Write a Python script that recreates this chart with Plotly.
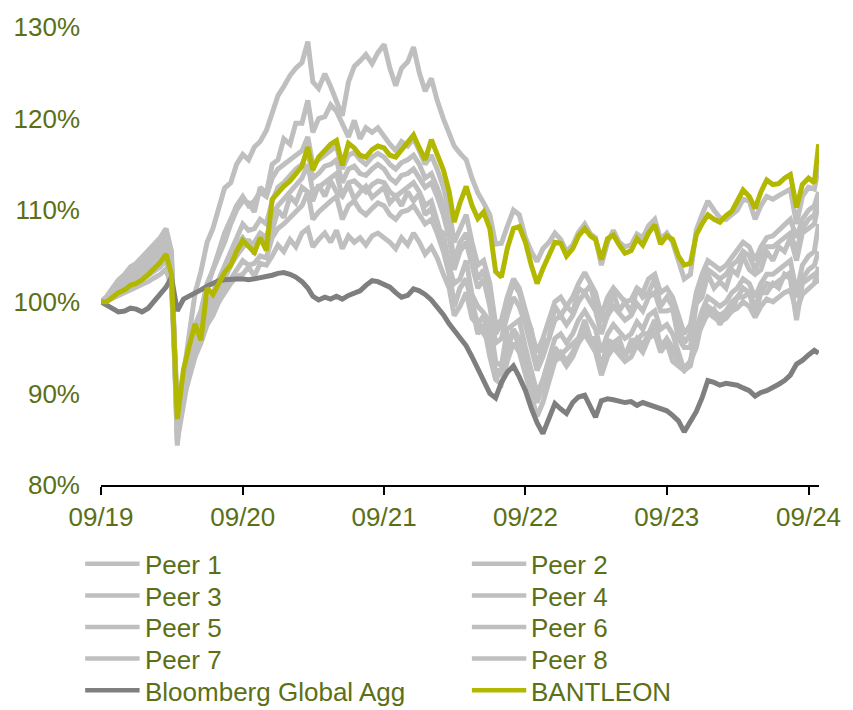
import plotly.graph_objects as go

# Observation dates: 1st and 16th of every month, Sep 2019 - Sep 2024, plus last day
dates = []
for yr in range(2019, 2025):
    for mo in range(1, 13):
        if (yr, mo) < (2019, 9) or (yr, mo) > (2024, 9):
            continue
        dates.append(f"{yr}-{mo:02d}-01")
        dates.append(f"{yr}-{mo:02d}-16")
dates.append("2024-09-27")

# Indexed performance (start = 100)
bantleon = [
    100.0, 100.0, 100.5, 101.0, 101.3, 101.8, 102.0, 102.4, 103.0, 103.6, 104.3, 105.2,
    103.0, 87.2, 92.6, 95.2, 97.6, 95.8, 101.5, 100.8, 102.0, 103.2, 104.0, 105.5,
    106.7, 106.0, 105.4, 107.0, 105.6, 111.2, 112.0, 112.6, 113.2, 114.0, 114.8, 116.9,
    114.4, 115.8, 116.5, 117.2, 117.6, 114.9, 117.3, 116.8, 116.0, 115.8, 116.6, 117.0,
    116.8, 116.0, 115.8, 116.6, 117.5, 118.2, 116.8, 115.5, 117.7, 116.0, 114.4, 112.0,
    108.7, 110.8, 112.6, 110.5, 109.1, 109.8, 108.0, 103.3, 102.7, 105.8, 108.0, 108.2,
    106.5, 104.0, 102.0, 103.6, 105.0, 106.5, 106.4, 105.0, 105.8, 107.2, 108.0, 107.2,
    106.8, 104.6, 106.9, 107.3, 106.2, 105.3, 105.6, 106.9, 106.2, 107.5, 108.4, 106.3,
    107.2, 106.8, 105.0, 104.0, 104.2, 107.3, 108.5, 109.5, 109.0, 108.7, 109.4, 109.9,
    111.0, 112.2, 111.5, 110.2, 112.0, 113.3, 112.8, 112.9, 113.5, 113.9, 110.3, 112.8,
    113.5, 113.0, 117.2,
]

bloomberg = [
    100.0, 99.6, 99.2, 98.9, 99.0, 99.3, 99.2, 98.9, 99.3, 100.1, 100.8, 101.6,
    102.7, 99.0, 100.3, 100.6, 101.0, 101.3, 101.7, 102.0, 102.3, 102.4, 102.5, 102.5,
    102.5, 102.4, 102.5, 102.6, 102.7, 102.9, 103.1, 103.2, 103.0, 102.7, 102.2, 101.5,
    100.6, 100.2, 100.5, 100.3, 100.6, 100.3, 100.7, 101.0, 101.2, 101.8, 102.3, 102.2,
    101.9, 101.6, 101.0, 100.5, 100.7, 101.4, 101.2, 100.8, 100.2, 99.5, 98.6, 97.6,
    96.9, 96.0, 95.2, 94.0, 92.6, 91.5, 90.0, 89.5, 91.2, 92.3, 93.0, 91.8,
    90.3, 88.4, 86.8, 85.6, 87.5, 88.9, 88.3, 87.8, 89.0, 89.6, 89.8, 88.5,
    87.4, 89.2, 89.4, 89.3, 89.2, 89.0, 89.1, 88.7, 89.0, 88.8, 88.6, 88.3,
    88.1, 87.6, 87.0, 85.8, 86.9, 88.0, 89.5, 91.4, 91.2, 90.9, 91.1, 91.0,
    90.9, 90.6, 90.3, 89.7, 90.1, 90.3, 90.6, 91.0, 91.4, 92.0, 93.2, 93.6,
    94.2, 94.7, 94.4,
]

peer1 = [
    100.0, 100.6, 101.5, 102.4, 103.0, 103.8, 104.2, 104.9, 105.6, 106.3, 107.0, 108.0,
    105.5, 84.3, 92.0, 96.5, 101.0, 103.3, 106.5, 108.0, 110.0, 112.4, 113.0, 115.0,
    116.1, 115.5, 116.9, 117.5, 118.7, 120.5, 122.5, 123.5, 124.7, 125.5, 126.1, 128.4,
    124.0, 123.3, 124.9, 123.5, 121.9, 120.3, 124.0, 125.7, 126.3, 127.0, 126.0, 127.2,
    128.1, 125.5, 123.6, 125.5, 126.2, 127.8, 125.0, 123.0, 124.4, 122.0, 120.0, 118.5,
    117.0, 116.2, 115.5, 113.5, 111.9, 110.8, 109.5, 106.3, 106.4, 108.2, 110.0, 109.5,
    107.0, 105.5, 104.4, 105.8, 106.5, 107.5, 106.8, 105.5, 106.2, 107.6, 108.5, 107.4,
    107.0, 104.0, 106.5, 107.8, 106.5, 106.0, 106.2, 107.4, 107.0, 108.3, 109.0, 106.8,
    107.5, 106.5, 104.5, 102.5, 103.0, 107.8, 109.5, 111.0, 110.0, 109.2, 109.0, 109.5,
    110.0, 111.2, 111.0, 109.0, 110.5, 111.5, 111.2, 111.6, 112.0, 112.3, 108.5, 111.5,
    112.5, 112.3, 114.7,
]

peer2 = [
    100.0, 100.4, 101.0, 101.8, 102.2, 102.9, 103.5, 104.0, 104.6, 105.3, 106.0, 107.2,
    104.5, 85.5, 90.0, 94.0, 96.5, 98.0, 101.5, 103.5, 105.0, 106.5, 108.5, 110.0,
    111.0, 110.8, 109.8, 112.5, 111.8, 115.0, 115.5, 117.8, 117.2, 119.5, 119.5, 122.0,
    118.5, 120.0, 120.2, 121.5, 120.8, 119.5, 118.0, 119.8, 117.8, 119.0, 118.5, 119.0,
    118.0, 117.2, 116.5, 117.5, 117.0, 117.8, 116.5, 115.0, 116.0, 114.5, 112.5, 110.0,
    106.5, 108.0, 109.5, 106.5, 104.0, 104.5, 102.0, 97.5, 98.0, 100.5, 102.5, 101.5,
    99.0, 96.5, 94.5, 96.0, 98.0, 100.0, 100.5, 99.5, 100.5, 102.0, 103.2, 102.0,
    101.0, 98.5, 100.5, 101.5, 100.8, 100.0, 100.2, 101.5, 101.0, 102.5, 103.0, 101.0,
    101.5, 100.5, 98.5, 96.5, 97.5, 101.0, 103.0, 104.5, 104.0, 103.5, 104.0, 104.8,
    105.5, 106.5, 106.0, 104.5, 106.0, 107.0, 107.2, 107.8, 108.5, 109.0, 107.0, 109.0,
    110.0, 110.5, 112.0,
]

peer3 = [
    100.0, 100.3, 100.8, 101.2, 101.6, 102.0, 102.5, 103.0, 103.4, 103.9, 104.5, 105.8,
    103.0, 88.0, 91.5, 94.5, 96.0, 97.0, 99.5, 101.0, 102.5, 104.0, 105.5, 107.0,
    108.5, 107.8, 108.0, 109.0, 108.5, 111.0, 112.5, 113.0, 113.8, 114.5, 115.0, 116.5,
    113.5, 114.0, 114.8, 115.0, 115.5, 113.0, 114.5, 114.8, 114.0, 113.8, 114.5, 115.0,
    114.5, 113.5, 113.0, 113.8, 114.0, 114.5, 113.5, 112.5, 113.0, 111.5, 109.5, 107.0,
    103.5, 105.5, 106.5, 104.0, 101.5, 102.5, 99.5, 95.5, 96.0, 98.5, 100.5, 99.5,
    97.5, 95.0, 92.5, 94.0, 96.0, 98.0, 98.5, 97.5, 98.5, 100.0, 101.0, 100.0,
    99.0, 96.5, 98.5, 99.5, 98.8, 98.0, 98.5, 99.8, 99.0, 100.5, 101.0, 99.0,
    99.0, 99.2, 96.0, 95.0, 95.0, 99.8, 100.5, 103.0, 101.5, 102.2, 101.5, 103.5,
    103.0, 105.0, 103.5, 103.0, 103.5, 105.5, 104.5, 106.0, 105.5, 107.0, 104.5, 107.5,
    108.0, 108.5, 110.8,
]

peer4 = [
    100.0, 100.2, 100.6, 101.0, 101.3, 101.7, 102.0, 102.4, 102.9, 103.3, 103.8, 104.6,
    102.0, 86.0, 90.5, 93.0, 95.0, 96.0, 98.5, 99.5, 101.0, 102.5, 104.0, 105.0,
    106.0, 106.8, 105.2, 107.5, 106.5, 107.8, 110.0, 109.2, 111.5, 110.8, 112.5, 112.0,
    111.0, 112.8, 111.5, 113.2, 112.0, 111.5, 112.8, 111.2, 112.0, 112.6, 111.4, 112.0,
    112.5, 110.8, 111.5, 110.5, 112.0, 111.0, 111.8, 109.5, 110.2, 108.0, 107.5, 103.8,
    102.0, 102.5, 104.5, 100.8, 99.5, 98.8, 97.8, 93.5, 93.0, 97.0, 97.5, 98.0,
    95.0, 92.5, 90.0, 91.5, 94.0, 96.0, 96.5, 95.5, 96.5, 98.0, 99.0, 98.0,
    97.0, 94.5, 96.5, 97.5, 96.8, 96.0, 96.5, 97.8, 97.0, 98.5, 99.0, 97.0,
    97.5, 96.5, 94.5, 92.5, 93.5, 97.0, 99.0, 100.5, 100.0, 99.5, 100.0, 101.0,
    101.5, 102.5, 102.0, 100.5, 102.0, 103.0, 103.0, 103.5, 104.0, 104.5, 101.0, 104.0,
    105.0, 105.5, 108.5,
]

peer5 = [
    100.0, 100.3, 100.7, 101.3, 101.8, 102.3, 102.8, 103.4, 104.0, 104.6, 105.2, 106.5,
    103.5, 87.0, 89.5, 92.0, 94.0, 95.5, 97.5, 98.5, 100.0, 101.5, 102.5, 103.5,
    104.5, 104.0, 104.2, 105.0, 104.8, 107.0, 108.0, 108.5, 109.2, 109.8, 110.5, 112.0,
    109.0, 109.8, 110.5, 111.0, 111.5, 109.0, 110.5, 111.0, 110.0, 109.5, 110.2, 110.8,
    110.5, 109.5, 109.0, 109.8, 110.0, 110.5, 109.5, 108.5, 109.0, 107.5, 105.5, 103.0,
    99.5, 101.5, 102.5, 100.0, 97.5, 98.5, 95.5, 91.5, 92.5, 95.0, 97.0, 96.0,
    94.0, 90.5, 89.0, 90.8, 92.0, 95.0, 94.2, 94.8, 95.5, 96.0, 98.0, 96.0,
    96.0, 92.5, 95.8, 95.5, 96.0, 94.0, 95.8, 95.8, 96.5, 96.5, 98.0, 95.0,
    96.0, 95.0, 93.5, 92.5, 93.0, 96.0, 98.0, 99.5, 99.0, 98.5, 99.0, 100.0,
    100.5, 101.5, 101.0, 99.5, 101.0, 102.0, 101.8, 102.3, 102.8, 103.2, 100.5, 102.5,
    103.5, 104.0, 105.5,
]

peer6 = [
    100.0, 100.1, 100.4, 100.7, 101.0, 101.3, 101.5, 101.8, 102.2, 102.6, 103.0, 103.6,
    101.5, 89.0, 92.0, 94.0, 95.5, 96.5, 98.0, 99.0, 100.0, 101.0, 102.0, 102.8,
    103.0, 103.8, 102.8, 104.2, 104.0, 105.0, 106.2, 105.5, 106.8, 106.0, 107.5, 108.0,
    106.0, 106.8, 107.5, 106.5, 107.8, 105.8, 107.2, 106.5, 107.0, 106.2, 107.2, 107.5,
    107.0, 106.5, 105.8, 107.0, 106.2, 107.5, 106.5, 105.2, 106.0, 104.8, 103.0, 101.5,
    98.5, 99.5, 101.0, 98.2, 97.5, 96.5, 95.5, 92.5, 92.5, 94.5, 97.0, 95.0,
    93.5, 91.5, 89.5, 90.5, 92.5, 94.0, 94.5, 93.5, 94.5, 96.0, 97.0, 96.0,
    95.0, 93.0, 94.8, 95.5, 95.0, 94.3, 94.8, 96.0, 95.3, 96.5, 97.0, 95.3,
    95.8, 94.8, 93.5, 92.8, 93.5, 96.0, 97.5, 98.8, 98.3, 97.8, 98.2, 99.0,
    99.3, 100.0, 99.5, 98.3, 99.5, 100.3, 100.0, 100.5, 101.0, 101.3, 99.0, 100.8,
    101.5, 102.0, 103.8,
]

peer7 = [
    100.0, 100.3, 100.9, 101.5, 102.0, 102.6, 103.0, 103.6, 104.2, 104.8, 105.5, 106.8,
    104.0, 84.8, 88.5, 92.5, 95.0, 96.5, 99.0, 100.5, 102.0, 103.5, 105.0, 106.0,
    107.0, 106.2, 106.5, 107.5, 107.0, 109.5, 110.5, 111.2, 112.0, 112.8, 113.5, 115.0,
    112.0, 112.5, 113.0, 113.5, 114.0, 111.5, 113.0, 113.2, 112.5, 112.0, 112.8, 113.2,
    113.0, 112.0, 111.5, 112.0, 112.5, 113.0, 112.0, 110.5, 111.0, 109.0, 106.5, 103.5,
    99.5, 101.5, 102.5, 99.5, 96.5, 97.5, 94.0, 91.5, 91.0, 93.5, 95.5, 94.5,
    92.0, 89.5, 87.5, 89.0, 91.5, 93.5, 94.0, 93.0, 94.0, 95.5, 96.5, 95.5,
    94.5, 92.0, 94.0, 95.0, 94.3, 93.5, 94.0, 95.3, 94.5, 96.0, 96.5, 94.5,
    95.5, 93.5, 93.0, 92.5, 93.5, 95.0, 98.0, 98.5, 99.2, 97.5, 99.0, 99.0,
    100.5, 100.5, 101.0, 98.5, 101.0, 101.0, 102.0, 101.5, 103.0, 102.5, 98.0, 102.0,
    102.5, 103.0, 102.0,
]

peer8 = [
    100.0, 100.5, 101.2, 101.9, 102.5, 103.2, 103.8, 104.5, 105.0, 105.8, 106.5, 107.6,
    104.8, 86.5, 91.0, 95.0, 97.5, 99.0, 102.0, 103.5, 105.5, 107.5, 109.0, 110.5,
    111.5, 110.5, 111.0, 112.0, 111.5, 113.5, 114.5, 115.0, 115.5, 116.0, 116.5, 118.0,
    115.0, 115.5, 116.0, 116.5, 117.0, 114.5, 116.0, 116.3, 115.5, 115.0, 115.8, 116.2,
    115.8, 115.0, 114.5, 115.2, 115.5, 116.0, 115.0, 113.5, 114.0, 112.5, 110.5, 108.0,
    104.5, 106.5, 107.5, 105.0, 102.5, 103.5, 100.5, 96.5, 97.5, 100.0, 102.0, 101.0,
    98.5, 97.0, 92.5, 95.5, 96.0, 99.5, 98.5, 99.5, 98.8, 101.5, 101.0, 101.8,
    99.5, 98.0, 98.8, 101.0, 99.0, 100.0, 98.8, 101.5, 100.5, 101.0, 102.5, 99.5,
    100.5, 99.5, 97.5, 95.5, 96.5, 100.0, 102.0, 103.5, 103.0, 102.5, 103.0, 104.0,
    104.5, 105.5, 105.0, 103.5, 105.0, 106.0, 106.0, 106.5, 107.0, 107.5, 105.5, 108.0,
    109.0, 109.5, 111.2,
]

peer_names = ["Peer 1", "Peer 2", "Peer 3", "Peer 4", "Peer 5", "Peer 6", "Peer 7", "Peer 8"]
peer_series = [peer1, peer2, peer3, peer4, peer5, peer6, peer7, peer8]

x_tick_dates = ["2019-09-01", "2020-09-01", "2021-09-01", "2022-09-01", "2023-09-01", "2024-09-01"]
x_tick_labels = ["09/19", "09/20", "09/21", "09/22", "09/23", "09/24"]
y_tick_values = [80, 90, 100, 110, 120, 130]
y_tick_labels = ["80%", "90%", "100%", "110%", "120%", "130%"]

PEER_GREY = "#BFBFBF"
AGG_GREY = "#7F7F7F"
BANTLEON_GREEN = "#B2B800"
TEXT_GREEN = "#5B7016"
FONT = "Liberation Sans, Arial, sans-serif"
LINE_W = 5

fig = go.Figure()
for name, vals in zip(peer_names, peer_series):
    fig.add_trace(go.Scatter(x=dates, y=vals, mode="lines", name=name,
                             line=dict(color=PEER_GREY, width=LINE_W), showlegend=False))
fig.add_trace(go.Scatter(x=dates, y=bloomberg, mode="lines", name="Bloomberg Global Agg",
                         line=dict(color=AGG_GREY, width=LINE_W), showlegend=False))
fig.add_trace(go.Scatter(x=dates, y=bantleon, mode="lines", name="BANTLEON",
                         line=dict(color=BANTLEON_GREEN, width=LINE_W), showlegend=False))

# Two-column legend drawn below the plot
L, R, T, B = 101, 26, 17, 225
W, H = 853, 710
pw, ph = W - L - R, H - T - B

def px_x(px):
    return (px - L) / pw

def px_y(py):
    return (H - B - py) / ph

legend_rows = [("Peer 1", "Peer 2"), ("Peer 3", "Peer 4"), ("Peer 5", "Peer 6"),
               ("Peer 7", "Peer 8"), ("Bloomberg Global Agg", "BANTLEON")]
legend_color = {n: PEER_GREY for n in peer_names}
legend_color["Bloomberg Global Agg"] = AGG_GREY
legend_color["BANTLEON"] = BANTLEON_GREEN
shapes, annotations = [], []
for r, pair in enumerate(legend_rows):
    py = 565.5 + r * 32.3
    for c, name in enumerate(pair):
        x0 = 85 if c == 0 else 476
        shapes.append(dict(type="line", xref="paper", yref="paper",
                           x0=px_x(x0), x1=px_x(x0 + 55), y0=px_y(py), y1=px_y(py),
                           line=dict(color=legend_color[name], width=4.5)))
        annotations.append(dict(text=name, xref="paper", yref="paper",
                                x=px_x(x0 + 58), y=px_y(py + 1.5), xanchor="left", yanchor="middle",
                                showarrow=False, font=dict(family=FONT, size=26, color=TEXT_GREEN)))

fig.update_layout(
    width=W, height=H,
    margin=dict(l=L, r=R, t=T, b=B),
    paper_bgcolor="white", plot_bgcolor="white",
    showlegend=False,
    shapes=shapes, annotations=annotations,
    xaxis=dict(type="date", range=["2019-09-01", "2024-09-28"],
               tickvals=x_tick_dates, ticktext=x_tick_labels,
               ticks="outside", ticklen=8, tickwidth=2, tickcolor="black",
               showline=True, linecolor="black", linewidth=2,
               showgrid=False, zeroline=False,
               tickfont=dict(family=FONT, size=26, color=TEXT_GREEN)),
    yaxis=dict(range=[80, 130], tickvals=y_tick_values, ticktext=y_tick_labels,
               showline=False, showgrid=False, zeroline=False, ticks="",
               ticklabelstandoff=20,
               tickfont=dict(family=FONT, size=26, color=TEXT_GREEN)),
)

fig.write_html("out.html")
